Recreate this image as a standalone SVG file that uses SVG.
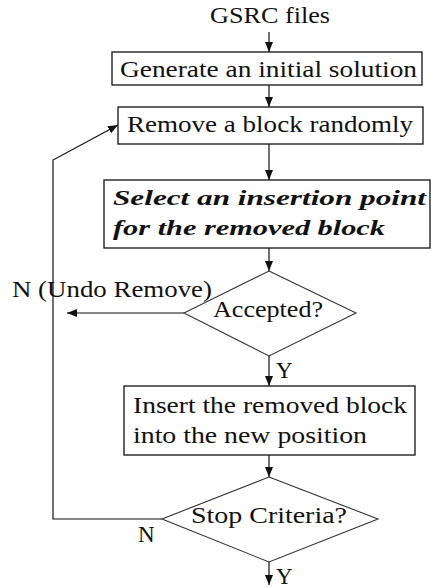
<svg xmlns="http://www.w3.org/2000/svg" width="431" height="588" viewBox="0 0 431 588">
<style>
text{font-family:"Liberation Serif","Times New Roman",serif;fill:#111}
.bi{font-weight:bold;font-style:italic}
.box{fill:#fff;stroke:#111;stroke-width:1.3}
.dia{fill:#fff;stroke:#333;stroke-width:1.1}
.con{fill:none;stroke:#111;stroke-width:1.2}
</style>
<defs>
<marker id="ah" viewBox="0 0 10 8" refX="10" refY="4" markerWidth="10" markerHeight="8" markerUnits="userSpaceOnUse" orient="auto">
<path d="M0,0 L10,4 L0,8 z" fill="#111"/>
</marker>
</defs>
<g id="connectors">
<line class="con" x1="269" y1="32" x2="269" y2="52" marker-end="url(#ah)"/>
<line class="con" x1="269" y1="85" x2="269" y2="107" marker-end="url(#ah)"/>
<line class="con" x1="269" y1="144" x2="269" y2="180" marker-end="url(#ah)"/>
<line class="con" x1="269" y1="248" x2="269" y2="271" marker-end="url(#ah)"/>
<line class="con" x1="184" y1="313" x2="67" y2="313" marker-end="url(#ah)"/>
<line class="con" x1="269" y1="356" x2="269" y2="386" marker-end="url(#ah)"/>
<line class="con" x1="269" y1="455" x2="269" y2="477" marker-end="url(#ah)"/>
<polyline class="con" points="162,519 53,519 53,160 118,125" marker-end="url(#ah)"/>
<line class="con" x1="269" y1="562" x2="269" y2="585" marker-end="url(#ah)"/>
</g>
<g id="start"><text x="210" y="23" font-size="23" textLength="120" lengthAdjust="spacingAndGlyphs">GSRC files</text></g>
<g id="generate">
<rect class="box" x="112" y="52" width="310" height="33"/>
<text x="120" y="77" font-size="23" textLength="297" lengthAdjust="spacingAndGlyphs">Generate an initial solution</text>
</g>
<g id="remove">
<rect class="box" x="118" y="107" width="305" height="37"/>
<text x="127" y="132" font-size="23" textLength="286" lengthAdjust="spacingAndGlyphs">Remove a block randomly</text>
</g>
<g id="select">
<rect class="box" x="104" y="180" width="326" height="68"/>
<text class="bi" x="113" y="205" font-size="22" textLength="313" lengthAdjust="spacingAndGlyphs">Select an insertion point</text>
<text class="bi" x="113" y="235" font-size="22" textLength="272" lengthAdjust="spacingAndGlyphs">for the removed block</text>
</g>
<g id="accepted">
<polygon class="dia" points="269,271 356,313 269,356 184,313"/>
<text x="213" y="317" font-size="23" textLength="110" lengthAdjust="spacingAndGlyphs">Accepted?</text>
</g>
<g id="labels1">
<text x="12" y="297" font-size="23" textLength="200" lengthAdjust="spacingAndGlyphs">N (Undo Remove)</text>
<text x="276" y="378" font-size="23">Y</text>
</g>
<g id="insert">
<rect class="box" x="124" y="386" width="291" height="69"/>
<text x="133" y="413" font-size="23" textLength="274" lengthAdjust="spacingAndGlyphs">Insert the removed block</text>
<text x="133" y="443" font-size="23" textLength="234" lengthAdjust="spacingAndGlyphs">into the new position</text>
</g>
<g id="stop">
<polygon class="dia" points="269,477 378,519 269,562 162,519"/>
<text x="191" y="523" font-size="23" textLength="156" lengthAdjust="spacingAndGlyphs">Stop Criteria?</text>
</g>
<g id="labels2">
<text x="138" y="542" font-size="23">N</text>
<text x="276" y="584" font-size="23">Y</text>
</g>
</svg>
